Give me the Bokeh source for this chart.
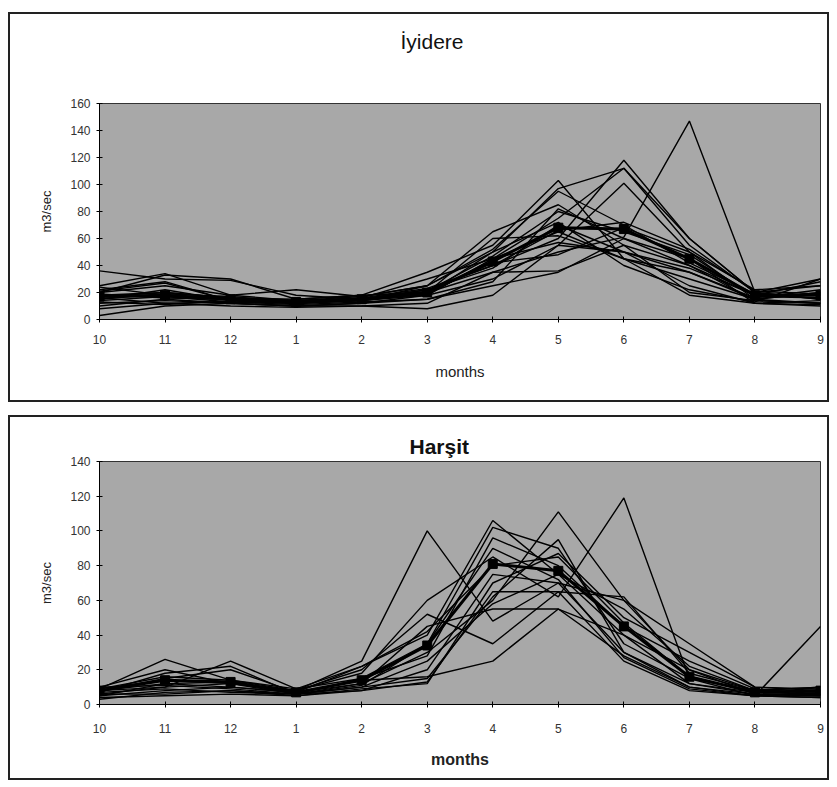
from bokeh.plotting import figure
from bokeh.layouts import column, row
from bokeh.models import FixedTicker, Spacer, Title
from bokeh.embed import file_html
from bokeh.resources import INLINE

# ---------------- data ----------------
month_labels = ["10", "11", "12", "1", "2", "3", "4", "5", "6", "7", "8", "9"]
xpos = list(range(len(month_labels)))

# İyidere: yearly hydrographs (m3/sec) and mean
iyidere_mean = [17, 18, 15, 13, 15, 20, 43, 68, 67, 45, 18, 18]
iyidere_years = [
    [36, 30, 29, 18, 15, 22, 40, 60, 118, 60, 20, 15],
    [25, 34, 18, 22, 17, 25, 65, 85, 55, 40, 18, 28],
    [20, 33, 30, 15, 18, 35, 55, 103, 45, 35, 15, 20],
    [15, 22, 14, 12, 14, 18, 45, 75, 112, 55, 20, 25],
    [12, 14, 12, 10, 12, 18, 30, 55, 101, 50, 15, 12],
    [18, 20, 16, 12, 14, 20, 35, 50, 61, 147, 20, 15],
    [3, 10, 12, 10, 10, 8, 18, 55, 50, 25, 12, 10],
    [10, 15, 12, 10, 12, 15, 25, 35, 60, 40, 14, 12],
    [22, 28, 14, 13, 16, 30, 45, 65, 45, 30, 15, 20],
    [16, 12, 13, 12, 15, 22, 38, 70, 50, 38, 18, 16],
    [14, 17, 13, 11, 13, 15, 28, 82, 60, 45, 12, 14],
    [24, 18, 16, 14, 17, 25, 50, 97, 112, 60, 20, 30],
    [8, 12, 10, 9, 10, 12, 35, 36, 55, 20, 14, 12],
    [20, 25, 18, 14, 15, 20, 60, 62, 45, 18, 12, 11],
    [19, 16, 15, 12, 16, 18, 45, 57, 50, 35, 16, 22],
    [13, 11, 14, 13, 14, 25, 52, 95, 70, 42, 19, 18],
    [17, 20, 16, 15, 18, 20, 42, 48, 68, 50, 22, 25],
    [21, 27, 14, 12, 14, 19, 50, 72, 40, 22, 13, 30],
    [15, 19, 17, 13, 15, 21, 47, 80, 65, 48, 17, 16],
    [18, 16, 15, 14, 16, 23, 40, 66, 72, 52, 21, 19],
]

# Harşit: yearly hydrographs (m3/sec) and mean
harsit_mean = [8, 14, 13, 7, 14, 34, 81, 77, 45, 16, 7, 8]
harsit_years = [
    [9, 26, 14, 8, 25, 100, 48, 70, 30, 12, 6, 5],
    [8, 10, 25, 9, 22, 40, 106, 75, 40, 12, 7, 6],
    [7, 18, 22, 6, 15, 35, 102, 90, 35, 15, 8, 7],
    [5, 8, 10, 7, 12, 30, 60, 111, 60, 20, 6, 5],
    [6, 6, 8, 6, 10, 15, 62, 95, 30, 10, 5, 4],
    [10, 20, 12, 8, 18, 60, 85, 62, 119, 15, 5, 6],
    [4, 5, 6, 5, 8, 13, 65, 65, 62, 18, 8, 7],
    [8, 12, 10, 7, 14, 16, 25, 55, 28, 10, 6, 5],
    [9, 14, 12, 8, 20, 52, 35, 65, 25, 8, 5, 45],
    [6, 10, 12, 6, 12, 45, 55, 55, 40, 20, 8, 10],
    [3, 7, 8, 5, 9, 12, 70, 87, 50, 30, 10, 8],
    [9, 16, 14, 9, 15, 28, 96, 80, 45, 25, 9, 6],
    [7, 9, 7, 6, 8, 20, 75, 70, 60, 35, 10, 9],
    [5, 12, 13, 6, 11, 35, 90, 72, 27, 9, 5, 4],
    [8, 15, 20, 7, 22, 42, 80, 85, 47, 16, 7, 6],
    [10, 11, 9, 6, 10, 25, 58, 75, 55, 22, 8, 10],
]

FONT = "Liberation Sans"


def make_panel(years, mean, ymax, height, mb_top, mb_bottom,
               xlab_size, xlab_style, tick_standoff, xlabel_standoff):
    p = figure(width=821, height=height, output_backend="svg", toolbar_location=None,
               x_range=(0, 11), y_range=(0, ymax),
               min_border_left=89, min_border_right=11,
               min_border_top=mb_top, min_border_bottom=mb_bottom,
               background_fill_color="#a8a8a8", border_fill_color="white",
               outline_line_color="#333333", outline_line_width=1,
               styles={"border": "2px solid #222222", "box-sizing": "border-box"})
    p.xgrid.visible = False
    p.ygrid.visible = False

    for ys in years:
        p.line(xpos, ys, line_color="black", line_width=1.4)
    p.line(xpos, mean, line_color="black", line_width=3)
    p.scatter(xpos, mean, marker="square", size=9, fill_color="black", line_color="black")

    p.xaxis.ticker = FixedTicker(ticks=xpos)
    p.xaxis.major_label_overrides = {i: lab for i, lab in zip(xpos, month_labels)}
    p.xaxis.axis_label = "months"
    p.xaxis.axis_label_text_font = FONT
    p.xaxis.axis_label_text_font_size = xlab_size
    p.xaxis.axis_label_text_font_style = xlab_style
    p.xaxis.axis_label_text_color = "#222222"
    p.xaxis.axis_label_standoff = xlabel_standoff
    p.xaxis.major_label_standoff = tick_standoff

    p.yaxis.ticker = FixedTicker(ticks=list(range(0, ymax + 1, 20)))
    p.yaxis.axis_label = "m3/sec"
    p.yaxis.axis_label_text_font = FONT
    p.yaxis.axis_label_text_font_size = "13px"
    p.yaxis.axis_label_text_font_style = "normal"
    p.yaxis.axis_label_text_color = "#222222"
    p.yaxis.axis_label_standoff = 13
    p.yaxis.major_label_standoff = 6

    for ax in (p.xaxis, p.yaxis):
        ax.axis_line_color = "black"
        ax.axis_line_width = 1
        ax.major_tick_line_color = "black"
        ax.major_tick_in = 3
        ax.major_tick_out = 3
        ax.minor_tick_line_color = None
        ax.major_label_text_font = FONT
        ax.major_label_text_font_size = "12px"
        ax.major_label_text_color = "#333333"
    return p


p1 = make_panel(iyidere_years, iyidere_mean, 160, 390, 89, 85,
                xlab_size="15px", xlab_style="normal", tick_standoff=12, xlabel_standoff=16)
# empty spacer title next to the frame, then the real title above it
p1.add_layout(Title(text=" ", text_font=FONT, text_font_size="14px", standoff=28), "above")
p1.add_layout(Title(text="İyidere", align="left", offset=301, standoff=10,
                    text_font=FONT, text_font_size="21px", text_font_style="normal",
                    text_color="#111111"), "above")

p2 = make_panel(harsit_years, harsit_mean, 140, 365, 44, 78,
                xlab_size="16px", xlab_style="bold", tick_standoff=16, xlabel_standoff=15)
p2.add_layout(Title(text="Harşit", align="left", offset=310, standoff=8,
                    text_font=FONT, text_font_size="21px", text_font_style="bold",
                    text_color="#111111"), "above")

layout = row(Spacer(width=8, height=10),
             column(Spacer(height=12, width=821), p1, Spacer(height=13, width=821), p2))

open("out.html", "w").write(file_html(layout, INLINE))
